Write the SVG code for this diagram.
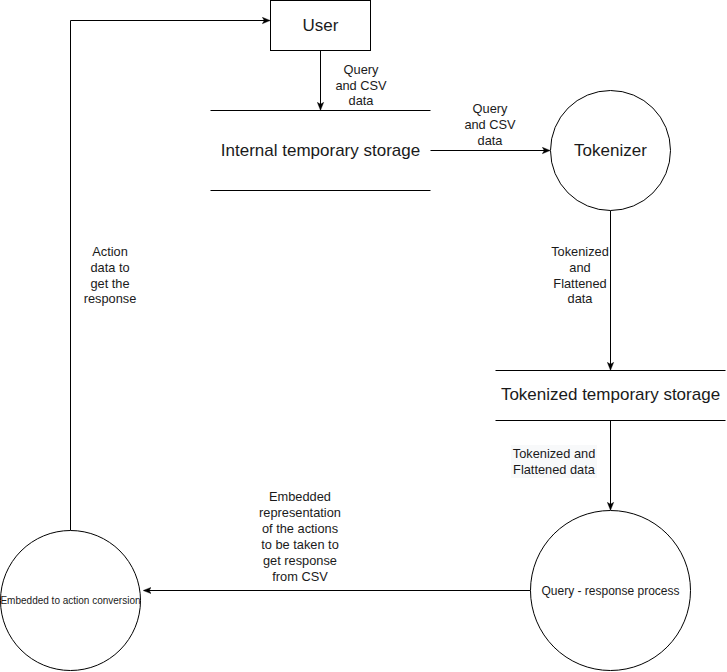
<svg xmlns="http://www.w3.org/2000/svg" width="727" height="672" viewBox="0 0 727 672">
<style>
  .shape { fill: #ffffff; stroke: #000000; stroke-width: 1; }
  .line { fill: none; stroke: #000000; stroke-width: 1; }
  .edge { fill: none; stroke: #000000; stroke-width: 1; marker-end: url(#arrow); }
  text { font-family: "Liberation Sans", Arial, Helvetica, sans-serif; fill: #1a1a1a; text-anchor: middle; }
  .big { font-size: 17px; }
  .mid { font-size: 12px; }
  .lbl { font-size: 12.8px; }
  .small { font-size: 10px; }
</style>
<defs>
  <marker id="arrow" viewBox="0 0 10 10" refX="9" refY="5" markerWidth="8" markerHeight="8" markerUnits="userSpaceOnUse" orient="auto">
    <path d="M0,1 L10,5 L0,9 L2.5,5 Z" fill="#000000" stroke="#000000" stroke-width="0.5"/>
  </marker>
</defs>
<rect width="727" height="672" fill="#ffffff"/>

<g id="connectors">
  <path class="edge" d="M320.5,50.5 L320.5,109.5"/>
  <path class="edge" d="M430.5,150.5 L549.5,150.5"/>
  <path class="edge" d="M610.5,210.5 L610.5,369.5"/>
  <path class="edge" d="M610.5,420.5 L610.5,509.5"/>
  <path class="edge" d="M530.5,590.5 L144,590.5"/>
  <path class="edge" d="M70.5,530.5 L70.5,20.5 L269.5,20.5"/>
  <g id="edge-labels">
    <text class="lbl" x="361" y="74">Query</text>
    <text class="lbl" x="361" y="90">and CSV</text>
    <text class="lbl" x="361" y="105">data</text>
    <text class="lbl" x="490" y="113">Query</text>
    <text class="lbl" x="490" y="129">and CSV</text>
    <text class="lbl" x="490" y="145">data</text>
    <text class="lbl" x="580" y="256">Tokenized</text>
    <text class="lbl" x="580" y="272">and</text>
    <text class="lbl" x="580" y="288">Flattened</text>
    <text class="lbl" x="580" y="303">data</text>
    <rect x="511" y="445" width="86" height="33" fill="#f8f9fa"/>
    <text class="lbl" x="554" y="458">Tokenized and</text>
    <text class="lbl" x="554" y="474">Flattened data</text>
    <text class="lbl" x="300" y="501">Embedded</text>
    <text class="lbl" x="300" y="517">representation</text>
    <text class="lbl" x="300" y="533">of the actions</text>
    <text class="lbl" x="300" y="549">to be taken to</text>
    <text class="lbl" x="300" y="565">get response</text>
    <text class="lbl" x="300" y="581">from CSV</text>
    <text class="lbl" x="110" y="256">Action</text>
    <text class="lbl" x="110" y="272">data to</text>
    <text class="lbl" x="110" y="288">get the</text>
    <text class="lbl" x="110" y="303">response</text>
  </g>
</g>

<g id="user">
  <rect class="shape" x="270.5" y="0.5" width="100" height="50"/>
  <text class="big" x="320.5" y="31">User</text>
</g>

<g id="internal-storage">
  <line class="line" x1="210.5" y1="110.5" x2="430.5" y2="110.5"/>
  <line class="line" x1="210.5" y1="190.5" x2="430.5" y2="190.5"/>
  <text class="big" x="320.5" y="156">Internal temporary storage</text>
</g>

<g id="tokenizer">
  <circle class="shape" cx="610.5" cy="150.5" r="60"/>
  <text class="big" x="610.5" y="156">Tokenizer</text>
</g>

<g id="tokenized-storage">
  <line class="line" x1="495.5" y1="370.5" x2="725.5" y2="370.5"/>
  <line class="line" x1="495.5" y1="420.5" x2="725.5" y2="420.5"/>
  <text class="big" x="610.5" y="400">Tokenized temporary storage</text>
</g>

<g id="query-response">
  <circle class="shape" cx="610.5" cy="590.5" r="80"/>
  <text class="mid" x="610.5" y="595">Query - response process</text>
</g>

<g id="embedded-action">
  <circle class="shape" cx="70.5" cy="600.5" r="70"/>
  <text class="small" x="70.5" y="604">Embedded to action conversion</text>
</g>
</svg>
